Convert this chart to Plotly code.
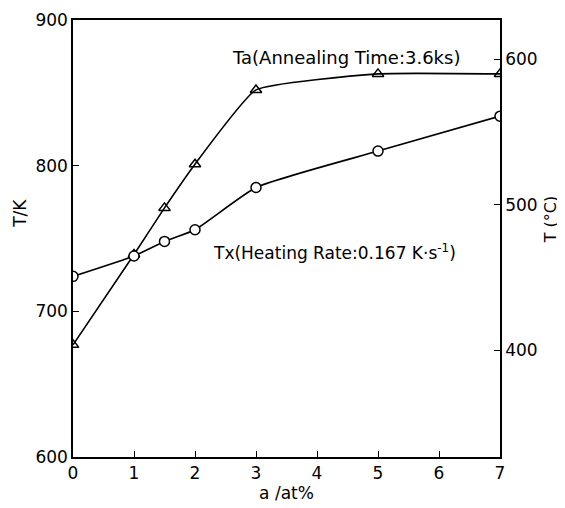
import plotly.graph_objects as go

x_ta = [0, 1, 1.5, 2, 3, 5, 7]
ta_K = [677, 739, 771, 801, 852, 863, 863]
x_tx = [0, 1, 1.5, 2, 3, 5, 7]
tx_K = [724, 738, 748, 756, 785, 810, 834]

left_ticks = [600, 700, 800, 900]
right_ticks = [400, 500, 600]
x_ticks = [0, 1, 2, 3, 4, 5, 6, 7]

FONT = "DejaVu Sans"

fig = go.Figure()
fig.add_trace(go.Scatter(
    x=x_ta, y=ta_K, mode="lines+markers", line=dict(color="black", width=1.6, shape="spline", smoothing=0.4),
    marker=dict(symbol="triangle-up-open", size=10, color="black", line=dict(width=1.5)),
    showlegend=False))
fig.add_trace(go.Scatter(
    x=x_tx, y=tx_K, mode="lines+markers", line=dict(color="black", width=1.6, shape="spline", smoothing=0.5),
    marker=dict(symbol="circle", size=10, color="white", line=dict(width=1.5, color="black")),
    showlegend=False))
# invisible trace for the right (Celsius) axis
fig.add_trace(go.Scatter(x=[0], y=[500], yaxis="y2", mode="markers",
                         marker=dict(opacity=0), showlegend=False, hoverinfo="skip"))

fig.add_annotation(x=2.58, y=874, text="Ta(Annealing Time:3.6ks)", showarrow=False,
                   xanchor="left", yanchor="middle", font=dict(family=FONT, size=18, color="black"))
fig.add_annotation(x=2.26, y=741, text="Tx(Heating Rate:0.167 K·s<sup>-1</sup>)", showarrow=False,
                   xanchor="left", yanchor="middle", font=dict(family=FONT, size=17, color="black"))
# axis titles
fig.add_annotation(xref="paper", x=-0.124, yref="y", y=767, text="T/K", textangle=-90, showarrow=False,
                   xanchor="center", yanchor="middle", font=dict(family=FONT, size=17, color="black"))
fig.add_annotation(xref="paper", x=1.119, yref="y", y=763, text="T (°C)", textangle=-90, showarrow=False,
                   xanchor="center", yanchor="middle", font=dict(family=FONT, size=16, color="black"))

axis_common = dict(showline=True, linecolor="black", linewidth=1.5, ticks="inside",
                   ticklen=6, tickcolor="black", showgrid=False, zeroline=False, automargin=False,
                   tickfont=dict(family=FONT, size=17, color="black"))

fig.update_layout(
    width=557, height=500,
    margin=dict(l=65, r=65, t=12, b=51),
    plot_bgcolor="white", paper_bgcolor="white",
    xaxis=dict(range=[0, 7], tickvals=x_ticks, mirror=True,
               title=dict(text="a /at%", font=dict(family=FONT, size=17, color="black"), standoff=0),
               **axis_common),
    yaxis=dict(range=[600, 900], tickvals=left_ticks, mirror=False, **axis_common),
    yaxis2=dict(range=[600 - 273.15, 900 - 273.15], tickvals=right_ticks, overlaying="y", side="right",
                **axis_common),
)

fig.write_html("out.html")
